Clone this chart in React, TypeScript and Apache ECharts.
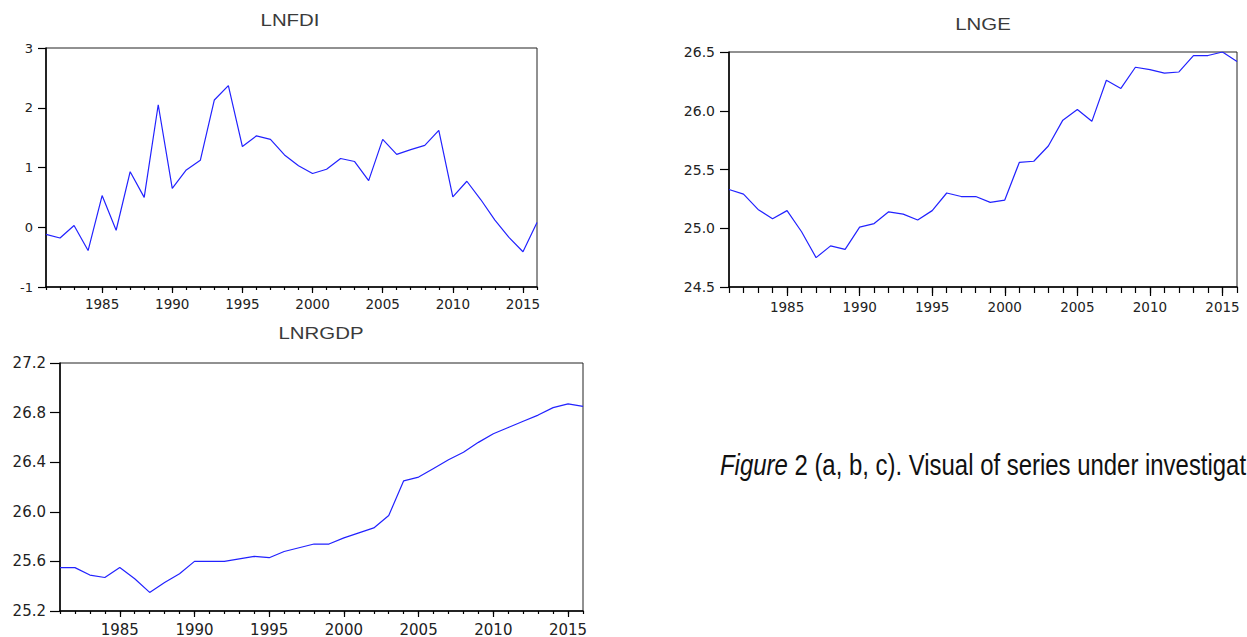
import React, { useEffect, useRef } from "react";
import * as echarts from "echarts";

const years: string[] = [];
for (let y = 1981; y <= 2016; y++) years.push(String(y));

const lnfdi = [
  -0.12, -0.18, 0.03, -0.39, 0.53, -0.05, 0.93, 0.5, 2.05, 0.65,
  0.96, 1.12, 2.13, 2.37, 1.35, 1.53, 1.47, 1.21, 1.03, 0.9,
  0.97, 1.15, 1.1, 0.78, 1.47, 1.22, 1.3, 1.37, 1.62, 0.51,
  0.77, 0.46, 0.12, -0.17, -0.41, 0.08,
];

const lnge = [
  25.33, 25.29, 25.16, 25.08, 25.15, 24.97, 24.75, 24.85, 24.82, 25.01,
  25.04, 25.14, 25.12, 25.07, 25.15, 25.3, 25.27, 25.27, 25.22, 25.24,
  25.56, 25.57, 25.7, 25.92, 26.01, 25.91, 26.26, 26.19, 26.37, 26.35,
  26.32, 26.33, 26.47, 26.47, 26.5, 26.42,
];

const lnrgdp = [
  25.55, 25.55, 25.49, 25.47, 25.55, 25.46, 25.35, 25.43, 25.5, 25.6,
  25.6, 25.6, 25.62, 25.64, 25.63, 25.68, 25.71, 25.74, 25.74, 25.79,
  25.83, 25.87, 25.97, 26.25, 26.28, 26.35, 26.42, 26.48, 26.56, 26.63,
  26.68, 26.73, 26.78, 26.84, 26.87, 26.85,
];

const titles = ["LNFDI", "LNGE", "LNRGDP"];
const captionText = "{i|Figure} 2 (a, b, c). Visual of series under investigat";

const isMajor = (_i: number, v: string) => Number(v) % 5 === 0;

export default function App() {
  const ref = useRef<HTMLDivElement>(null);
  useEffect(() => {
    if (!ref.current) return;
    const chart = echarts.init(ref.current, undefined, { renderer: "svg" });
    const tickFont = "DejaVu Sans";
    const grids = [
      { left: 46, top: 48, width: 491, height: 239 },
      { left: 729, top: 52, width: 508, height: 235 },
      { left: 60, top: 363, width: 523, height: 249 },
    ];
    const yCfg = [
      { min: -1, max: 3, interval: 1, dec: 0, fs: 13, margin: 13, tick: 8 },
      { min: 24.5, max: 26.5, interval: 0.5, dec: 1, fs: 14, margin: 14, tick: 9 },
      { min: 25.2, max: 27.2, interval: 0.4, dec: 1, fs: 15, margin: 14, tick: 10 },
    ];
    const xCfg = [
      { minor: 3, major: 6, fs: 13.5, margin: 10 },
      { minor: 6, major: 9, fs: 13.5, margin: 13 },
      { minor: 3, major: 6, fs: 15, margin: 11 },
    ];
    const data = [lnfdi, lnge, lnrgdp];
    const xAxes: any[] = [];
    const yAxes: any[] = [];
    const series: any[] = [];
    grids.forEach((_g, i) => {
      xAxes.push({
        type: "category",
        gridIndex: i,
        data: years,
        boundaryGap: false,
        axisLine: { show: true, onZero: false, lineStyle: { color: "#000", width: 1.5 } },
        axisTick: { show: true, interval: 0, length: xCfg[i].minor, lineStyle: { color: "#000", width: 1.2 } },
        axisLabel: { show: false },
        splitLine: { show: false },
      });
      xAxes.push({
        type: "category",
        gridIndex: i,
        data: years,
        boundaryGap: false,
        position: "bottom",
        axisLine: { show: false, onZero: false },
        axisTick: { show: true, interval: isMajor, length: xCfg[i].major, lineStyle: { color: "#000", width: 1.2 } },
        axisLabel: {
          show: true,
          interval: isMajor,
          margin: xCfg[i].margin,
          fontFamily: tickFont,
          fontSize: xCfg[i].fs,
          color: "#222",
        },
        splitLine: { show: false },
      });
      const yc = yCfg[i];
      yAxes.push({
        type: "value",
        gridIndex: i,
        min: yc.min,
        max: yc.max,
        interval: yc.interval,
        axisLine: { show: true, onZero: false, lineStyle: { color: "#000", width: 1.5 } },
        axisTick: { show: true, length: yc.tick, lineStyle: { color: "#000", width: 1.2 } },
        axisLabel: {
          margin: yc.margin,
          fontFamily: tickFont,
          fontSize: yc.fs,
          color: "#222",
          formatter: (v: number) => v.toFixed(yc.dec),
        },
        splitLine: { show: false },
      });
      series.push({
        type: "line",
        xAxisIndex: i * 2,
        yAxisIndex: i,
        data: data[i],
        showSymbol: false,
        symbol: "none",
        lineStyle: { color: "#2222ff", width: 1.2 },
      });
    });

    const titlePos = [
      { x: 290, y: 20 },
      { x: 983, y: 24 },
      { x: 321, y: 333 },
    ];

    chart.setOption({
      animation: false,
      backgroundColor: "#fff",
      grid: grids.map((g) => ({
        ...g,
        show: true,
        borderColor: "#222",
        borderWidth: 1,
        backgroundColor: "transparent",
        containLabel: false,
      })),
      xAxis: xAxes,
      yAxis: yAxes,
      series,
      graphic: [
        ...titles.map((t, i) => ({
          type: "text",
          x: titlePos[i].x,
          y: titlePos[i].y,
          scaleX: 1.2,
          style: {
            text: t,
            textAlign: "center",
            textVerticalAlign: "middle",
            fontFamily: "Liberation Sans, Arial, sans-serif",
            fontSize: 17,
            fill: "#3a3a3a",
          },
        })),
        {
          type: "text",
          x: 720,
          y: 465,
          scaleX: 0.825,
          style: {
            text: captionText,
            textAlign: "left",
            textVerticalAlign: "middle",
            fontFamily: "Liberation Sans, Arial, sans-serif",
            fontSize: 29,
            fill: "#111",
            rich: {
              i: {
                fontStyle: "italic",
                fontFamily: "Liberation Sans, Arial, sans-serif",
                fontSize: 29,
                fill: "#111",
              },
            },
          },
        },
      ],
    });
    return () => chart.dispose();
  }, []);
  return (
    <div
      ref={ref}
      style={{ position: "absolute", left: 0, top: 0, width: 1247, height: 637, overflow: "hidden" }}
    />
  );
}
